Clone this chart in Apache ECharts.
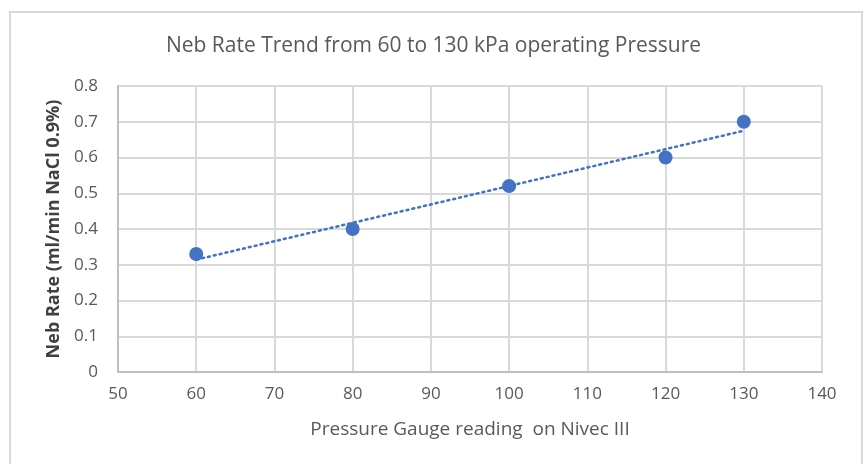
<!DOCTYPE html>
<html>
<head>
<meta charset="utf-8">
<script src="https://cdn.jsdelivr.net/npm/echarts@6/dist/echarts.min.js"></script>
<style>
  html, body { margin: 0; padding: 0; background: #fff; }
  #chart { width: 867px; height: 464px; }
</style>
</head>
<body>
<div id="chart"></div>
<script>
// pressure readings (kPa) and nebulisation rate (ml/min NaCl 0.9%)
var pressure = [60, 80, 100, 120, 130];
var nebRate = [0.33, 0.40, 0.52, 0.60, 0.70];

// linear trendline (least squares) through the measured points
function trend(xs, ys) {
    var n = xs.length, mx = 0, my = 0;
    for (var i = 0; i < n; i++) { mx += xs[i]; my += ys[i]; }
    mx /= n; my /= n;
    var sxy = 0, sxx = 0;
    for (var j = 0; j < n; j++) {
        sxy += (xs[j] - mx) * (ys[j] - my);
        sxx += (xs[j] - mx) * (xs[j] - mx);
    }
    var k = sxy / sxx, b = my - k * mx;
    var x0 = Math.min.apply(null, xs), x1 = Math.max.apply(null, xs);
    return [[x0, k * x0 + b], [x1, k * x1 + b]];
}

var font = '"Open Sans", "Noto Sans", sans-serif';
var myChart = echarts.init(document.getElementById('chart'));
var option = {
    animation: false,
    backgroundColor: '#fff',
    graphic: [{
        type: 'rect',
        shape: { x: 10, y: 12, width: 852, height: 470 },
        style: { fill: 'none', stroke: '#d9d9d9', lineWidth: 2 },
        silent: true
    }],
    title: {
        text: 'Neb Rate Trend from 60 to 130 kPa operating Pressure',
        left: 'center',
        top: 31,
        textStyle: { color: '#595959', fontSize: 21, fontWeight: 'normal', fontFamily: font }
    },
    grid: { left: 118, right: 45, top: 86, bottom: 92 },
    xAxis: {
        type: 'value',
        min: 50,
        max: 140,
        interval: 10,
        name: 'Pressure Gauge reading  on Nivec III',
        nameLocation: 'middle',
        nameGap: 48,
        nameTextStyle: { color: '#595959', fontSize: 19, fontFamily: font },
        axisLine: { show: true, lineStyle: { color: '#bfbfbf', width: 2 } },
        axisTick: { show: false },
        axisLabel: { color: '#595959', fontSize: 17, margin: 14, fontFamily: font },
        splitLine: { show: true, lineStyle: { color: '#d9d9d9', width: 2 } }
    },
    yAxis: {
        type: 'value',
        min: 0,
        max: 0.8,
        interval: 0.1,
        name: 'Neb Rate (ml/min NaCl 0.9%)',
        nameLocation: 'middle',
        nameGap: 54,
        nameTextStyle: { color: '#404040', fontSize: 18, fontWeight: 'bold', fontFamily: font },
        axisLine: { show: true, lineStyle: { color: '#bfbfbf', width: 2 } },
        axisTick: { show: false },
        axisLabel: { color: '#595959', fontSize: 17, margin: 20, fontFamily: font },
        splitLine: { show: true, lineStyle: { color: '#d9d9d9', width: 2 } }
    },
    series: [{
        name: 'Trend',
        type: 'line',
        data: trend(pressure, nebRate),
        showSymbol: false,
        lineStyle: { color: '#4472C4', width: 2.5, type: [2, 4], cap: 'round' },
        z: 2
    }, {
        name: 'Neb Rate',
        type: 'scatter',
        data: pressure.map(function (p, i) { return [p, nebRate[i]]; }),
        symbolSize: 14,
        itemStyle: { color: '#4472C4', opacity: 1 },
        z: 3
    }]
};
myChart.setOption(option);
</script>
</body>
</html>
